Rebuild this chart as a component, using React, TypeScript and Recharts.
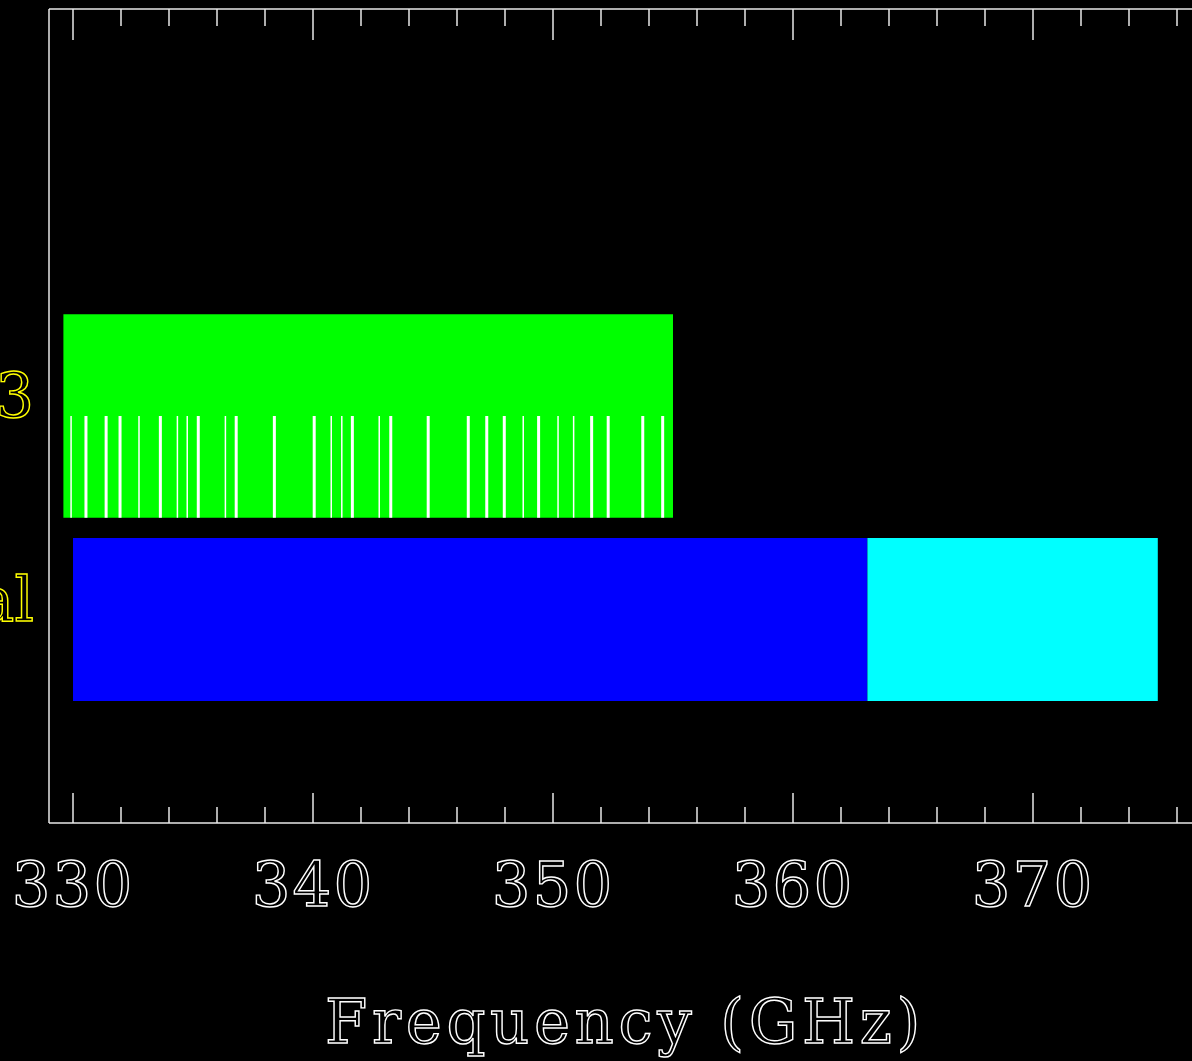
import React from 'react';
import { ComposedChart, XAxis, YAxis, ReferenceArea, ReferenceLine, Label, Scatter } from 'recharts';

// ---- data ----
const rowLabels = ['CH3OCH3', 'Spectral'];
const rowPositions = [2, 1];

// line-list band (row 0)
const lineListRange = [329.6, 355.0];
// coverage band segments (row 1)
const coverageStarts = [330.0, 363.1];
const coverageEnds = [363.1, 375.2];
const coverageColors = ['#0000ff', '#00ffff'];

// individual spectral lines in GHz, and whether each is a weak (thin) line
const lineFreqs = [
  329.92, 330.54, 331.38, 331.96, 332.75, 333.64, 334.35, 334.76, 335.22, 336.35,
  336.8, 338.39, 340.05, 340.76, 341.2, 341.64, 342.76, 343.24, 344.8, 346.47,
  347.24, 347.97, 348.76, 349.4, 350.21, 350.86, 351.61, 352.3, 353.74, 354.57,
];
const lineWeak = [
  true, false, false, false, true, false, true, true, false, true,
  false, false, false, true, true, false, true, false, false, false,
  false, false, true, false, true, true, false, false, false, false,
];

const xTicks = [330, 332, 334, 336, 338, 340, 342, 344, 346, 348, 350, 352, 354, 356, 358, 360, 362, 364, 366, 368, 370, 372, 374, 376];
const majorTicks = [330, 340, 350, 360, 370];
const xDomain = [329, 377];
const yDomain = [0, 4];

// ---- styles ----
const FONT = '"DejaVu Serif", serif';
const FS = 61;
const AXIS = '#e8e8e8';
const TEXT_STROKE = 1.4;

const BottomTick = (props: any) => {
  const { x, y, payload } = props;
  const major = majorTicks.includes(payload.value);
  return (
    <g>
      <line x1={x} x2={x} y1={y} y2={y - (major ? 30 : 16)} stroke={AXIS} strokeWidth={1.5} />
      {major && (
        <text x={x} y={y + 83} textAnchor="middle" fontFamily={FONT} fontSize={FS} letterSpacing={2}
          fill="none" stroke="#ffffff" strokeWidth={TEXT_STROKE}>
          {payload.value}
        </text>
      )}
    </g>
  );
};

const TopTick = (props: any) => {
  const { x, y, payload } = props;
  const major = majorTicks.includes(payload.value);
  return <line x1={x} x2={x} y1={y} y2={y + (major ? 31 : 17)} stroke={AXIS} strokeWidth={1.5} />;
};

const LeftTick = (props: any) => {
  const { y, payload } = props;
  const idx = rowPositions.indexOf(payload.value);
  if (idx < 0) return null;
  return (
    <text x={34} y={y + 1} textAnchor="end" fontFamily={FONT} fontSize={FS}
      fill="none" stroke="#ffff00" strokeWidth={TEXT_STROKE}>
      {rowLabels[idx]}
    </text>
  );
};

const TitleLabel = (props: any) => {
  const vb = props.viewBox || { x: 49, y: 823, width: 1152 };
  return (
    <text x={vb.x + vb.width / 2} y={vb.y + 220} textAnchor="middle" fontFamily={FONT} fontSize={FS} letterSpacing={4.6}
      fill="none" stroke="#ffffff" strokeWidth={TEXT_STROKE}>
      Frequency (GHz)
    </text>
  );
};

export default function App() {
  const LINE_BAND_HALF = 0.5;
  const COVER_HALF = 0.4;
  const dummy = [{ x: xDomain[0], y: yDomain[0] }, { x: xDomain[1], y: yDomain[1] }];
  return (
    <div style={{ position: 'absolute', left: 0, top: 0, width: 1192, height: 1061, overflow: 'hidden', background: '#000' }}>
      <ComposedChart width={1241} height={1061} data={dummy} margin={{ top: 0, right: 30, bottom: 0, left: 0 }}>
        <XAxis xAxisId="b" dataKey="x" type="number" domain={xDomain} ticks={xTicks} orientation="bottom" height={238}
          allowDataOverflow axisLine={{ stroke: AXIS, strokeWidth: 1.5 }} tickLine={false} tickSize={0} tickMargin={0}
          tick={<BottomTick />} interval={0}>
          <Label content={<TitleLabel />} />
        </XAxis>
        <XAxis xAxisId="t" dataKey="x" type="number" domain={xDomain} ticks={xTicks} orientation="top" height={9}
          allowDataOverflow axisLine={{ stroke: AXIS, strokeWidth: 1.5 }} tickLine={false} tickSize={0} tickMargin={0}
          tick={<TopTick />} interval={0} />
        <YAxis yAxisId="l" dataKey="y" type="number" domain={yDomain} ticks={rowPositions} width={49}
          allowDataOverflow axisLine={{ stroke: AXIS, strokeWidth: 1.5 }} tickLine={false} tickSize={0} tickMargin={0}
          tick={<LeftTick />} interval={0} />
        <YAxis yAxisId="r" dataKey="y" type="number" domain={yDomain} orientation="right" width={10}
          allowDataOverflow axisLine={{ stroke: AXIS, strokeWidth: 1.5 }} tickLine={false} tick={false} />
        <Scatter xAxisId="b" yAxisId="l" dataKey="y" fill="none" isAnimationActive={false} shape={() => null} />
        <Scatter xAxisId="t" yAxisId="r" dataKey="y" fill="none" isAnimationActive={false} shape={() => null} />

        <ReferenceArea xAxisId="b" yAxisId="l" x1={lineListRange[0]} x2={lineListRange[1]}
          y1={rowPositions[0] - LINE_BAND_HALF} y2={rowPositions[0] + LINE_BAND_HALF} fill="#00ff00" fillOpacity={1} stroke="none" />
        {coverageStarts.map((s, i) => (
          <ReferenceArea key={'c' + i} xAxisId="b" yAxisId="l" x1={s} x2={coverageEnds[i]}
            y1={rowPositions[1] - COVER_HALF} y2={rowPositions[1] + COVER_HALF} fill={coverageColors[i]} fillOpacity={1} stroke="none" />
        ))}
        {lineFreqs.map((f, i) => (
          <ReferenceLine key={'l' + i} xAxisId="b" yAxisId="l"
            segment={[{ x: f, y: rowPositions[0] - LINE_BAND_HALF }, { x: f, y: rowPositions[0] }]}
            stroke="#ffffff" strokeWidth={lineWeak[i] ? 1.5 : 3} />
        ))}
      </ComposedChart>
    </div>
  );
}
